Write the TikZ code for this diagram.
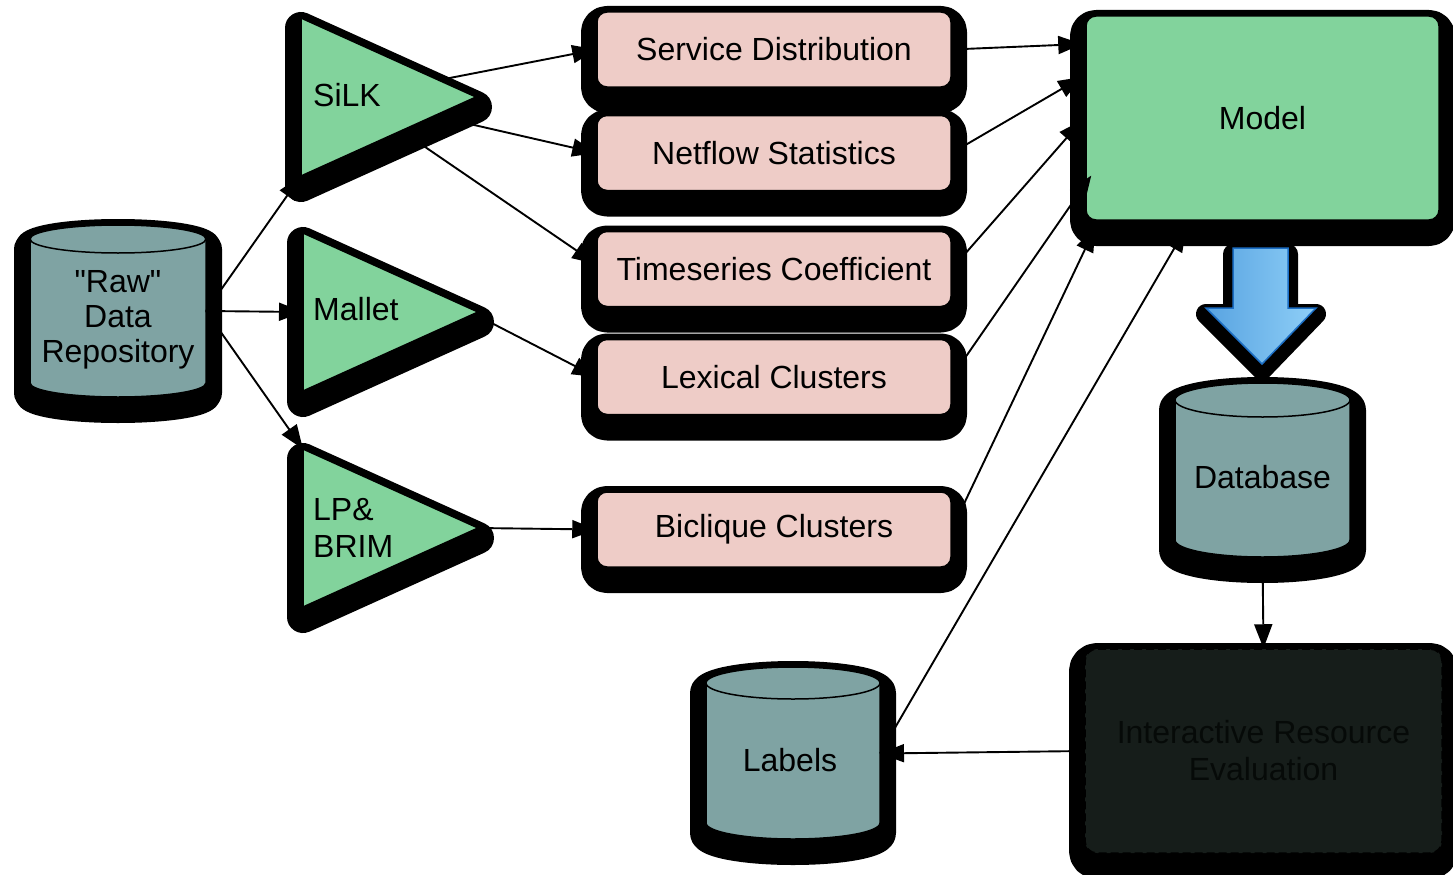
\documentclass[tikz,border=0pt]{standalone}
\usepackage{fontspec}
\setmainfont{Liberation Sans}[Ligatures=TeXOff]
\usetikzlibrary{shapes.geometric,arrows.meta,calc}
\definecolor{grn}{RGB}{130,211,156}
\definecolor{pnk}{RGB}{238,204,199}
\definecolor{cyl}{RGB}{127,163,163}
\definecolor{bluL}{RGB}{88,163,225}
\definecolor{bluR}{RGB}{143,207,247}
\definecolor{bluB}{RGB}{28,110,196}
\definecolor{ireF}{RGB}{22,29,26}
\definecolor{ireT}{RGB}{6,10,8}
\newcommand\dbdraw[5]{%
  \path[shad,fill=cyl,draw=black,line width=1.5pt] (#1-#4,#2) -- (#1-#4,#3)
    arc[start angle=180,end angle=0,x radius=#4,y radius=#5] -- (#1+#4,#2)
    arc[start angle=0,end angle=-180,x radius=#4,y radius=#5] -- cycle;
  \draw[line width=1.5pt] (#1-#4,#2) arc[start angle=180,end angle=0,x radius=#4,y radius=#5];}
\begin{document}
\begin{tikzpicture}[x=1pt,y=-1pt,
  shad/.style={preaction={draw=black,fill=black,solid,line width=32pt,line join=round,transform canvas={yshift=-10pt}}},
  smshad/.style={preaction={draw=black,fill=black,solid,line width=20pt,line join=round,transform canvas={yshift=-6pt}}},
  outl/.style={draw=black,line width=1.5pt},
  txt/.style={font=\fontsize{32}{37}\selectfont,text=black,inner sep=0pt,align=center},
  pbox/.style={shad,outl,fill=pnk,rounded corners=10pt,minimum width=354pt,minimum height=75pt,inner sep=0pt,font=\fontsize{32}{37}\selectfont},
  tri/.style={shad,outl,fill=grn,isosceles triangle,isosceles triangle stretches,minimum width=158pt,minimum height=175pt,inner sep=0pt,outer sep=0pt,anchor=apex},
  cylnode/.style={inner sep=0pt,outer sep=0pt},
  conn/.style={draw=black,line width=1.9pt,-{Triangle[length=24pt,width=18pt]}},
]
\useasboundingbox (0,0) rectangle (1453,875);
\fill[white] (0,0) rectangle (1453,875);

% model
\node[shad,outl,fill=grn,rounded corners=10pt,minimum width=353pt,minimum height=204pt,font=\fontsize{32}{37}\selectfont] (model) at (1262.5,118) {Model};

% blue block arrow
\path[smshad,draw=bluB,line width=1.5pt,left color=bluL,right color=bluR]
  (1233,248) -- (1288,248) -- (1288,308) -- (1316,308) -- (1262,364) -- (1206,308) -- (1233,308) -- cycle;

% cylinders
\dbdraw{118}{239}{383}{88}{14}
\node[cylnode,minimum width=176pt,minimum height=172pt] (raw) at (118,311) {};
\node[txt,font=\fontsize{32}{35}\selectfont] (rawt) at (118,320) {"Raw"\\Data\\Repository};

\dbdraw{1262.5}{400}{540}{87.5}{17}
\node[cylnode,minimum width=175pt,minimum height=174pt] (db) at (1262.5,470) {};
\node[txt] (dbt) at (1262.5,477) {Database};

\dbdraw{793}{683}{823}{87}{16}
\node[cylnode,minimum width=174pt,minimum height=173pt] (labels) at (793,753.5) {};
\node[txt] (labelst) at (790,760) {Labels};

% triangles
\node[tri] (silk) at (476,97) {};
\node[tri] (mallet) at (478,312) {};
\node[tri] (lp) at (478,528) {};
\node[txt,anchor=west] (silkt) at (313,95) {SiLK};
\node[txt,anchor=west] (mallett) at (313,309) {Mallet};
\node[txt,anchor=west,align=left] (lpt) at (313,527.5) {LP\&\\BRIM};

% pink boxes
\node[pbox] (service) at (774,49.5) {Service Distribution};
\node[pbox] (netflow) at (774,153) {Netflow Statistics};
\node[pbox] (timeseries) at (774,269) {Timeseries Coefficient};
\node[pbox] (lexical) at (774,377) {Lexical Clusters};
\node[pbox] (biclique) at (774,529.5) {Biclique Clusters};

% interactive resource evaluation
\node[shad,draw=black,line width=1.5pt,dash pattern=on 8pt off 4pt,fill=ireF,rounded corners=12pt,minimum width=357pt,minimum height=204pt,text=ireT,align=center,font=\fontsize{32}{37}\selectfont] (ire) at (1263.5,751) {Interactive Resource\\Evaluation};

% connectors
\draw[conn] (raw.east) -- (silk.right corner);
\draw[conn] (raw.east) -- (mallet.lower side);
\draw[conn] (raw.east) -- (lp.left corner);
\draw[conn] (silk) -- (service.west);
\draw[conn] (silk) -- (netflow.west);
\draw[conn] (silk) -- ([yshift=5pt]timeseries.west);
\draw[conn] ([yshift=-4pt]mallet.apex) -- (lexical.west);
\draw[conn] (lp.apex) -- (biclique.west);
\draw[conn] (service.east) -- ($(model.north west)!0.14!(model.south west)+(-3,0)$);
\draw[conn] (netflow.east) -- ($(model.north west)!0.30!(model.south west)+(-3,0)$);
\draw[conn] (timeseries.east) -- ($(model.north west)!0.51!(model.south west)+(-3,0)$);
\draw[conn] (lexical.east) -- ($(model.north west)!0.78!(model.south west)+(6,0)$);
\draw[conn] (biclique.east) -- ($(model.south west)+(10,7)$);
\draw[conn] (labels.east) -- ($(model.south west)+(101,7)$);
\draw[conn] (ire.west) -- (labels.east);
\draw[conn,{Triangle[length=24pt,width=18pt]}-{Triangle[length=24pt,width=18pt]}] (db.south) -- (ire.north);
\end{tikzpicture}
\end{document}
